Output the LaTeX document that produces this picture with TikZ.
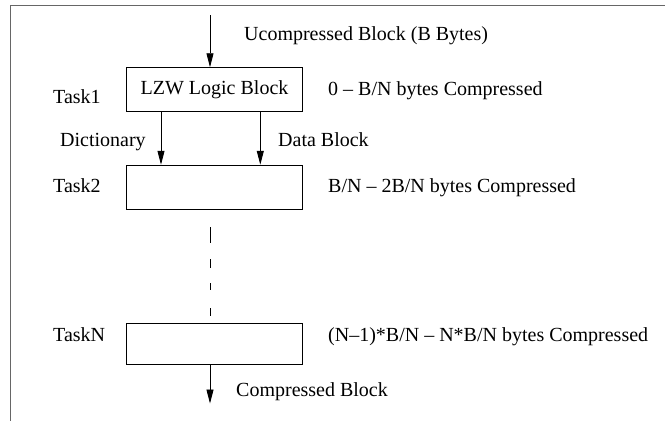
\documentclass[tikz,border=0pt]{standalone}
\usepackage{fontspec}
\setmainfont{Liberation Serif}
\usetikzlibrary{arrows.meta}
\tikzset{
	blk/.style={draw, line width=0.9pt, minimum width=175.5pt, inner sep=0pt, font=\fontsize{20}{24}\selectfont},
	lbl/.style={inner sep=0pt, anchor=base west, font=\fontsize{20}{24}\selectfont},
	arr/.style={line width=0.9pt, -{Triangle[length=14pt,width=7pt]}},
}

\begin{document}
\begin{tikzpicture}[x=1pt, y=-1pt]
		%%%%% START %%%%%
		\useasboundingbox (0, 0) rectangle (665, 421);
		
		% frame
		\draw[line width=1pt, color=black!60] (665, 5.3) -- (10.7, 5.3) -- (10.7, 421);
		
		% task blocks
		\node[blk, minimum height=44pt] (t1) at (214.5, 89.7) {LZW Logic Block};
		\node[blk, minimum height=44pt] (t2) at (214.5, 187.2) {};
		\node[blk, minimum height=40.7pt] (tn) at (214.5, 343.7) {};
		
		\coordinate (in) at (210, 15);
		\coordinate (out) at (210, 403.5);
		\coordinate (dtop) at (210, 227);
		\coordinate (dbot) at (210, 316);
		
		% data flow
		\draw[arr] (in) -- (in |- t1.north);
		\draw[arr] ([xshift=-53.5pt]t1.south) -- ([xshift=-53.5pt]t2.north);
		\draw[arr] ([xshift=45.8pt]t1.south) -- ([xshift=45.8pt]t2.north);
		\draw[line width=0.9pt, dash pattern=on 16pt off 16pt on 9pt off 15pt on 7pt off 18pt on 8pt] (dtop) -- (dbot);
		\draw[arr] (out |- tn.south) -- (out);
		
		% labels
		\node[lbl] (lin) at (244, 40.5) {Ucompressed Block (B Bytes)};
		\node[lbl] (n1) at (53, 103.3) {Task1};
		\node[lbl] (c1) at (328, 95) {0 – B/N bytes Compressed};
		\node[lbl] (ldict) at (60, 146.5) {Dictionary};
		\node[lbl] (ldata) at (278, 146.5) {Data Block};
		\node[lbl] (n2) at (53, 192) {Task2};
		\node[lbl] (c2) at (328, 192) {B/N – 2B/N bytes Compressed};
		\node[lbl] (nn) at (53, 341) {TaskN};
		\node[lbl] (cn) at (328, 341) {(N–1)*B/N – N*B/N bytes Compressed};
		\node[lbl] (lout) at (236, 396.7) {Compressed Block};
		
		%%%%% END %%%%%
\end{tikzpicture}
\end{document}
